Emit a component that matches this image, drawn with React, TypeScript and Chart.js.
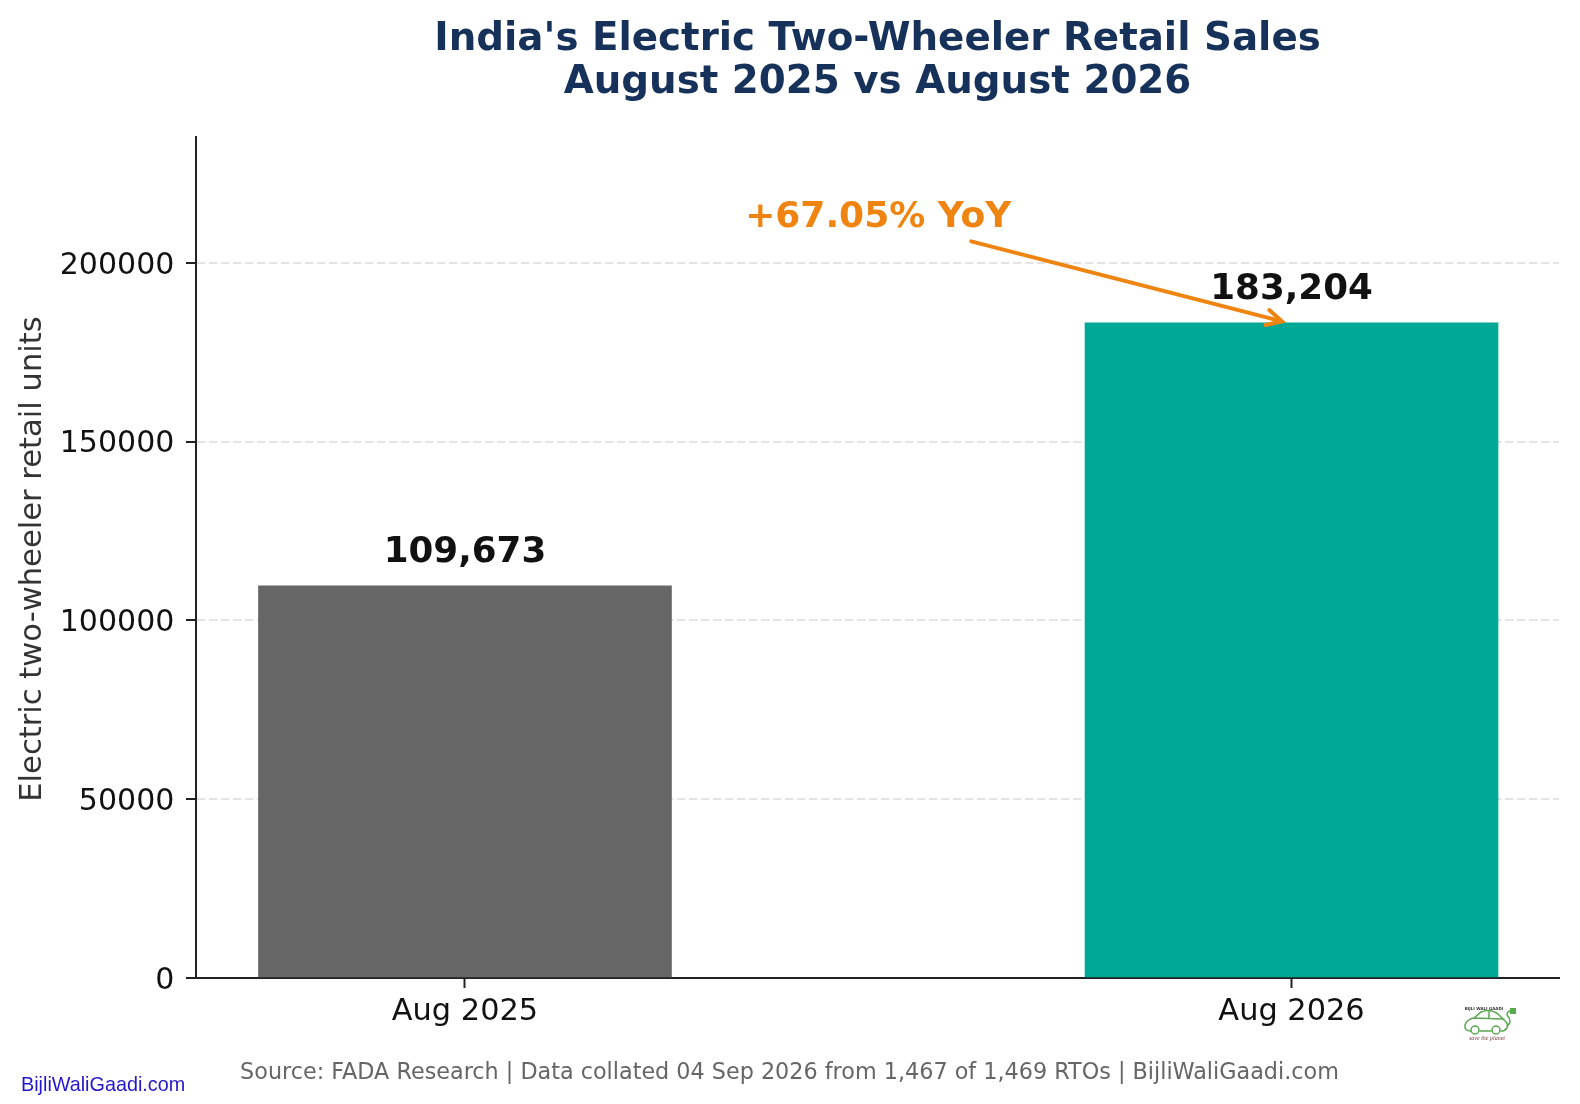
import { useRef, useEffect } from "react";
import { Chart, registerables } from "chart.js";

Chart.register(...registerables);

const FONT = "'DejaVu Sans', sans-serif";

const categories = ["Aug 2025", "Aug 2026"];
const positions = [0, 1];
const retailUnits = [109673, 183204];
const valueLabels = ["109,673", "183,204"];
const barColors = ["#666666", "#00a896"];
const yTicks = [0, 50000, 100000, 150000, 200000];

const titleLines = ["India's Electric Two-Wheeler Retail Sales", "August 2025 vs August 2026"];
const yLabel = "Electric two-wheeler retail units";
const growthLabel = "+67.05% YoY";
const growthLabelAt = [0.5, 212500];
const arrowFrom = [0.6125, 206000];
const arrowTo = [0.9885, 183620];
const sourceText = "Source: FADA Research | Data collated 04 Sep 2026 from 1,467 of 1,469 RTOs | BijliWaliGaadi.com";
const siteText = "BijliWaliGaadi.com";

const annotations = {
    id: "annotations",
    afterDatasetsDraw(chart: Chart) {
        const { ctx, scales } = chart;
        const x = scales.x;
        const y = scales.y;
        ctx.save();

        // value labels over the bars
        ctx.textAlign = "center";
        ctx.textBaseline = "middle";
        ctx.fillStyle = "#111111";
        ctx.font = `bold 35.7px ${FONT}`;
        positions.forEach((p, i) => {
            ctx.fillText(valueLabels[i], x.getPixelForValue(p), y.getPixelForValue(retailUnits[i]) - 33.5);
        });

        // growth label and arrow
        ctx.fillStyle = "#ef8510";
        ctx.font = `bold 36px ${FONT}`;
        ctx.fillText(growthLabel, x.getPixelForValue(growthLabelAt[0]), y.getPixelForValue(growthLabelAt[1]));
        const x0 = x.getPixelForValue(arrowFrom[0]);
        const y0 = y.getPixelForValue(arrowFrom[1]);
        const x1 = x.getPixelForValue(arrowTo[0]);
        const y1 = y.getPixelForValue(arrowTo[1]);
        const angle = Math.atan2(y1 - y0, x1 - x0);
        ctx.strokeStyle = "#ef8510";
        ctx.lineWidth = 4;
        ctx.lineCap = "round";
        ctx.beginPath();
        ctx.moveTo(x0, y0);
        ctx.lineTo(x1, y1);
        ctx.moveTo(x1 + 17 * Math.cos(angle + 2.67), y1 + 17 * Math.sin(angle + 2.67));
        ctx.lineTo(x1, y1);
        ctx.lineTo(x1 + 17 * Math.cos(angle - 2.67), y1 + 17 * Math.sin(angle - 2.67));
        ctx.stroke();

        // y axis title, sits a little below the plot centre
        ctx.save();
        ctx.translate(33, 559);
        ctx.rotate(-Math.PI / 2);
        ctx.fillStyle = "#333333";
        ctx.font = `30.6px ${FONT}`;
        ctx.fillText(yLabel, 0, 0);
        ctx.restore();

        // footer
        ctx.fillStyle = "#666666";
        ctx.font = `22.3px ${FONT}`;
        ctx.fillText(sourceText, 789.5, 1073);
        ctx.textAlign = "left";
        ctx.fillStyle = "#2418c8";
        ctx.font = "19.8px 'Liberation Sans', sans-serif";
        ctx.fillText(siteText, 21, 1086);

        // small car logo
        ctx.strokeStyle = "#58a84e";
        ctx.lineWidth = 1.5;
        ctx.lineCap = "round";
        ctx.beginPath();
        ctx.moveTo(1471, 1031);
        ctx.quadraticCurveTo(1464, 1031, 1465, 1025);
        ctx.quadraticCurveTo(1467, 1019, 1474, 1018);
        ctx.lineTo(1481, 1012);
        ctx.quadraticCurveTo(1491, 1008, 1499, 1015);
        ctx.lineTo(1504, 1020);
        ctx.quadraticCurveTo(1509, 1024, 1507, 1028);
        ctx.quadraticCurveTo(1505, 1031, 1501, 1031);
        ctx.moveTo(1480, 1031);
        ctx.lineTo(1491, 1031);
        ctx.moveTo(1474, 1018);
        ctx.lineTo(1504, 1019);
        ctx.moveTo(1489, 1011);
        ctx.lineTo(1489, 1018);
        ctx.moveTo(1507, 1026);
        ctx.quadraticCurveTo(1513, 1022, 1507, 1015);
        ctx.quadraticCurveTo(1507, 1011, 1511, 1011);
        ctx.stroke();
        ctx.beginPath();
        ctx.arc(1475, 1030, 4, 0, Math.PI * 2);
        ctx.moveTo(1500, 1030);
        ctx.arc(1496, 1030, 4, 0, Math.PI * 2);
        ctx.stroke();
        ctx.fillStyle = "#58a84e";
        ctx.fillRect(1510, 1008, 6, 6);
        ctx.textAlign = "center";
        ctx.fillStyle = "#333333";
        ctx.font = `bold 4px ${FONT}`;
        ctx.fillText("BIJLI WALI GAADI", 1484, 1009);
        ctx.fillStyle = "#7a3b3b";
        ctx.font = "italic 6px 'Liberation Serif', serif";
        ctx.fillText("save the planet", 1487, 1038);
        ctx.restore();
    }
};

export default function App() {
    const canvasRef = useRef<HTMLCanvasElement>(null);

    useEffect(() => {
        const canvas = canvasRef.current;
        if (!canvas) return;

        const chart = new Chart(canvas, {
            type: "bar",
            data: {
                datasets: [
                    {
                        data: positions.map((p, i) => ({ x: p, y: retailUnits[i] })),
                        backgroundColor: barColors,
                        barThickness: 413
                    }
                ]
            },
            options: {
                responsive: false,
                devicePixelRatio: 1,
                animation: false,
                layout: { padding: { left: 0, right: 21, top: 0, bottom: 0 } },
                scales: {
                    x: {
                        type: "linear",
                        offset: false,
                        min: -0.3254,
                        max: 1.3236,
                        afterBuildTicks: scale => {
                            scale.ticks = positions.map(p => ({ value: p }));
                        },
                        afterFit: scale => {
                            scale.height = 126;
                        },
                        border: { color: "#222222", width: 2 },
                        grid: { offset: false, drawOnChartArea: false, tickColor: "#222222", tickLength: 10, tickWidth: 2 },
                        ticks: {
                            color: "#111111",
                            font: { family: FONT, size: 30.4 },
                            padding: 6,
                            maxRotation: 0,
                            callback: value => categories[positions.indexOf(Number(value))]
                        }
                    },
                    y: {
                        min: 0,
                        max: 235200,
                        afterBuildTicks: scale => {
                            scale.ticks = yTicks.map(v => ({ value: v }));
                        },
                        afterFit: scale => {
                            scale.width = 196;
                        },
                        border: { color: "#222222", width: 2, dash: [8.5, 3.5] },
                        grid: {
                            color: "#e4e4e4",
                            lineWidth: 2,
                            tickColor: "#222222",
                            tickLength: 10,
                            tickWidth: 2,
                            tickBorderDash: []
                        },
                        ticks: {
                            color: "#111111",
                            autoSkip: false,
                            // lineHeight + blank first line nudges the label 3px under its tick
                            font: { family: FONT, size: 30, lineHeight: 0.2 },
                            padding: 11.7,
                            callback: value => ["", String(value)]
                        }
                    }
                },
                plugins: {
                    legend: { display: false },
                    tooltip: { enabled: false },
                    title: {
                        display: true,
                        fullSize: false,
                        text: titleLines,
                        color: "#17325a",
                        font: { family: FONT, size: 38.8, weight: "bold", lineHeight: 1.115 },
                        padding: { top: 18, bottom: 32.4 }
                    }
                }
            },
            plugins: [annotations]
        });

        return () => chart.destroy();
    }, []);

    return (
        <div style={{ position: "absolute", left: 0, top: 0, width: 1580, height: 1104, background: "#ffffff" }}>
            <canvas ref={canvasRef} width={1580} height={1104} />
        </div>
    );
}
